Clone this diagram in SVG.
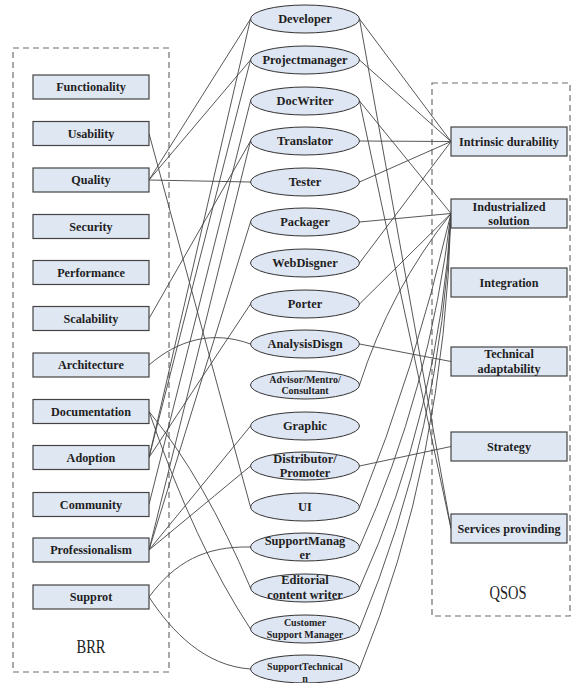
<svg xmlns="http://www.w3.org/2000/svg" width="574" height="683" viewBox="0 0 574 683">
<style>
.bg{fill:#ffffff}
.frame{fill:none;stroke:#6e6e6e;stroke-width:1.2;stroke-dasharray:6,4}
.box{fill:#dfe7f3;stroke:#444;stroke-width:1.2}
.ell{fill:#dfe6f3;stroke:#333;stroke-width:1}
.t{font-family:"Liberation Serif","Times New Roman",serif;font-weight:bold;fill:#1e1e1e;text-anchor:middle}
.s11{font-size:12.2px}
.s12{font-size:12.4px}
.s10{font-size:10px}
.lbl{font-family:"Liberation Serif","Times New Roman",serif;font-size:18px;fill:#222;text-anchor:middle}
.c{fill:none;stroke:#444;stroke-width:0.9}
</style>
<rect class="bg" x="0" y="0" width="574" height="683"/>

<g id="frame-brr"><rect class="frame" x="13" y="48" width="156" height="624"/><text class="lbl" x="91" y="653" textLength="29" lengthAdjust="spacingAndGlyphs">BRR</text></g>
<g id="frame-qsos"><rect class="frame" x="432" y="83" width="138" height="533"/><text class="lbl" x="508" y="599" textLength="37" lengthAdjust="spacingAndGlyphs">QSOS</text></g>

<g id="connectors">
<path class="c" d="M149,180 L250.5,19"/>
<path class="c" d="M149,180 L250.5,60"/>
<path class="c" d="M149,180 L250.5,182"/>
<path class="c" d="M149,133.5 L250.5,507"/>
<path class="c" d="M149,318.5 L250.5,141"/>
<path class="c" d="M149,365 C178,340 212,330 250.5,344"/>
<path class="c" d="M149,411.5 Q205,480 250.5,588"/>
<path class="c" d="M149,411.5 Q195,545 250.5,629"/>
<path class="c" d="M149,457.5 L250.5,19"/>
<path class="c" d="M149,457.5 L250.5,60"/>
<path class="c" d="M149,457.5 L250.5,304"/>
<path class="c" d="M149,504.5 L250.5,101"/>
<path class="c" d="M149,550 L250.5,141"/>
<path class="c" d="M149,550 L250.5,222"/>
<path class="c" d="M149,550 L250.5,426"/>
<path class="c" d="M149,550 L250.5,466"/>
<path class="c" d="M149,597 C175,562 205,546 250.5,547"/>
<path class="c" d="M149,597 C172,632 205,666 250.5,669"/>

<path class="c" d="M359.5,19 L451,141.5"/>
<path class="c" d="M359.5,19 L451,528.5"/>
<path class="c" d="M359.5,60 L451,141.5"/>
<path class="c" d="M359.5,101 L451,213.5"/>
<path class="c" d="M359.5,101 L451,528.5"/>
<path class="c" d="M359.5,141 L451,141.5"/>
<path class="c" d="M359.5,182 L451,141.5"/>
<path class="c" d="M359.5,222 L451,213.5"/>
<path class="c" d="M359.5,263 L451,141.5"/>
<path class="c" d="M359.5,304 L451,213.5"/>
<path class="c" d="M359.5,344 L451,361.5"/>
<path class="c" d="M359.5,385 Q390,290 451,213.5"/>
<path class="c" d="M359.5,466 L451,446.5"/>
<path class="c" d="M359.5,507 Q415,370 451,213.5"/>
<path class="c" d="M359.5,547 Q430,390 451,213.5"/>
<path class="c" d="M359.5,588 Q440,410 451,213.5"/>
<path class="c" d="M359.5,629 Q442,430 451,213.5"/>
<path class="c" d="M359.5,669 Q445,460 451,213.5"/>
</g>

<g id="brr-functionality"><rect class="box" x="33" y="75" width="116" height="24"/><text class="t s11" x="91" y="91.3">Functionality</text></g>
<g id="brr-usability"><rect class="box" x="33" y="121.5" width="116" height="24"/><text class="t s11" x="91" y="137.8">Usability</text></g>
<g id="brr-quality"><rect class="box" x="33" y="168" width="116" height="24"/><text class="t s11" x="91" y="184.3">Quality</text></g>
<g id="brr-security"><rect class="box" x="33" y="214.5" width="116" height="24"/><text class="t s11" x="91" y="230.8">Security</text></g>
<g id="brr-performance"><rect class="box" x="33" y="260.5" width="116" height="24"/><text class="t s11" x="91" y="276.8">Performance</text></g>
<g id="brr-scalability"><rect class="box" x="33" y="306.5" width="116" height="24"/><text class="t s11" x="91" y="322.8">Scalability</text></g>
<g id="brr-architecture"><rect class="box" x="33" y="353" width="116" height="24"/><text class="t s11" x="91" y="369.3">Architecture</text></g>
<g id="brr-documentation"><rect class="box" x="33" y="399.5" width="116" height="24"/><text class="t s11" x="91" y="415.8">Documentation</text></g>
<g id="brr-adoption"><rect class="box" x="33" y="445.5" width="116" height="24"/><text class="t s11" x="91" y="461.8">Adoption</text></g>
<g id="brr-community"><rect class="box" x="33" y="492.5" width="116" height="24"/><text class="t s11" x="91" y="508.8">Community</text></g>
<g id="brr-professionalism"><rect class="box" x="33" y="538" width="116" height="24"/><text class="t s11" x="91" y="554.3">Professionalism</text></g>
<g id="brr-supprot"><rect class="box" x="33" y="585" width="116" height="24"/><text class="t s11" x="91" y="601.3">Supprot</text></g>

<g id="role-developer"><ellipse class="ell" cx="305" cy="19" rx="54.5" ry="14"/><text class="t s12" x="305" y="23.3">Developer</text></g>
<g id="role-projectmanager"><ellipse class="ell" cx="305" cy="60" rx="54.5" ry="14"/><text class="t s12" x="305" y="64.3">Projectmanager</text></g>
<g id="role-docwriter"><ellipse class="ell" cx="305" cy="101" rx="54.5" ry="14"/><text class="t s12" x="305" y="105.3">DocWriter</text></g>
<g id="role-translator"><ellipse class="ell" cx="305" cy="141" rx="54.5" ry="14"/><text class="t s12" x="305" y="145.3">Translator</text></g>
<g id="role-tester"><ellipse class="ell" cx="305" cy="182" rx="54.5" ry="14"/><text class="t s12" x="305" y="186.3">Tester</text></g>
<g id="role-packager"><ellipse class="ell" cx="305" cy="222" rx="54.5" ry="14"/><text class="t s12" x="305" y="226.3">Packager</text></g>
<g id="role-webdisgner"><ellipse class="ell" cx="305" cy="263" rx="54.5" ry="14"/><text class="t s12" x="305" y="267.3">WebDisgner</text></g>
<g id="role-porter"><ellipse class="ell" cx="305" cy="304" rx="54.5" ry="14"/><text class="t s12" x="305" y="308.3">Porter</text></g>
<g id="role-analysisdisgn"><ellipse class="ell" cx="305" cy="344" rx="54.5" ry="14"/><text class="t s12" x="305" y="348.3">AnalysisDisgn</text></g>
<g id="role-advisor"><ellipse class="ell" cx="305" cy="385" rx="54.5" ry="14"/><text class="t s10" x="305" y="382.5">Advisor/Mentro/</text><text class="t s10" x="305" y="394">Consultant</text></g>
<g id="role-graphic"><ellipse class="ell" cx="305" cy="426" rx="54.5" ry="14"/><text class="t s12" x="305" y="430.3">Graphic</text></g>
<g id="role-distributor"><ellipse class="ell" cx="305" cy="466" rx="54.5" ry="14"/><text class="t s12" x="305" y="462.5">Distributor/</text><text class="t s12" x="305" y="477">Promoter</text></g>
<g id="role-ui"><ellipse class="ell" cx="305" cy="507" rx="54.5" ry="14"/><text class="t s12" x="305" y="511.3">UI</text></g>
<g id="role-supportmanager"><ellipse class="ell" cx="305" cy="547" rx="54.5" ry="14"/><text class="t s12" x="305" y="545">SupportManag</text><text class="t s12" x="305" y="559">er</text></g>
<g id="role-editorial"><ellipse class="ell" cx="305" cy="588" rx="54.5" ry="14"/><text class="t s12" x="305" y="583.5">Editorial</text><text class="t s12" x="305" y="598.5">content writer</text></g>
<g id="role-customer"><ellipse class="ell" cx="305" cy="629" rx="54.5" ry="14"/><text class="t s10" x="305" y="626">Customer</text><text class="t s10" x="305" y="637.5">Support Manager</text></g>
<g id="role-supporttechnical"><ellipse class="ell" cx="305" cy="669" rx="54.5" ry="14"/><text class="t s10" x="305" y="669.5">SupportTechnical</text><text class="t s10" x="305" y="682">n</text></g>

<g id="qsos-intrinsic"><rect class="box" x="451" y="127" width="116" height="29"/><text class="t s11" x="509" y="145.8">Intrinsic durability</text></g>
<g id="qsos-industrialized"><rect class="box" x="451" y="199" width="116" height="29"/><text class="t s11" x="509" y="210.5">Industrialized</text><text class="t s11" x="509" y="224.5">solution</text></g>
<g id="qsos-integration"><rect class="box" x="451" y="268" width="116" height="29"/><text class="t s11" x="509" y="286.8">Integration</text></g>
<g id="qsos-technical"><rect class="box" x="451" y="347" width="116" height="29"/><text class="t s11" x="509" y="358">Technical</text><text class="t s11" x="509" y="373">adaptability</text></g>
<g id="qsos-strategy"><rect class="box" x="451" y="432" width="116" height="29"/><text class="t s11" x="509" y="450.8">Strategy</text></g>
<g id="qsos-services"><rect class="box" x="451" y="514" width="116" height="29"/><text class="t s11" x="509" y="532.8">Services provinding</text></g>
</svg>
